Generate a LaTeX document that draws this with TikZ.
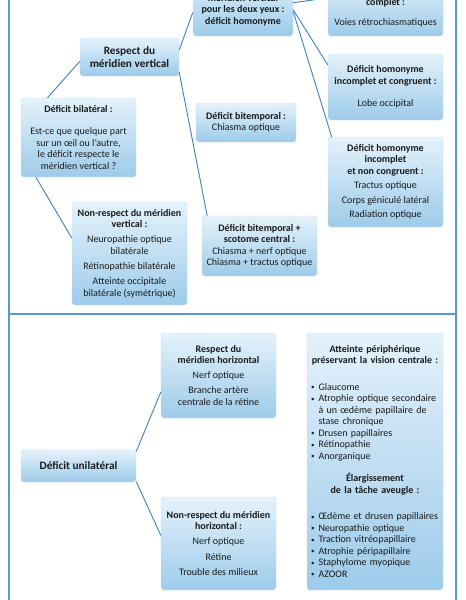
\documentclass[tikz,border=0pt]{standalone}
\usepackage{fontspec}
\setmainfont{Carlito}
\definecolor{boxtop}{HTML}{E4F2FB}
\definecolor{boxbot}{HTML}{9DCBEA}
\definecolor{boxline}{HTML}{BFDDF2}
\definecolor{linkblue}{HTML}{3F7FC0}
\definecolor{frameblue}{HTML}{5B96CF}
\definecolor{txt}{HTML}{1A1A1A}
\tikzset{
  box/.style={draw=boxline, rounded corners=3pt, top color=boxtop, bottom color=boxbot,
    align=center, inner sep=2pt, text=txt, minimum width=115pt,
    font=\fontsize{10}{11.5}\selectfont},
  bigbox/.style={box, font=\fontsize{11.3}{12.5}\selectfont},
  link/.style={draw=linkblue, line width=0.9pt},
  frame/.style={draw=frameblue, line width=2pt},
}
\newcommand{\dotb}{\makebox[0.75em][l]{\raisebox{0.8pt}{\fontsize{7}{7}\selectfont •}}}
\newcommand{\itm}[1]{\par\noindent\dotb#1}
\begin{document}
\begin{tikzpicture}[x=1pt,y=-1pt]
\useasboundingbox (0,0) rectangle (466,600);
\clip (0,0) rectangle (466,600);
% frame
\draw[frame] (9,0) -- (9,600);
\draw[frame] (456,0) -- (456,600);
\draw[frame] (9,314) -- (456,314);
% bilateral deficit
\node[bigbox, minimum width=99pt, minimum height=38pt] (rv) at (129.5,57)
  {\textbf{Respect du}\\\textbf{méridien vertical}};
\node[box, minimum height=79pt] (bilat) at (78.5,137.5)
  {\textbf{Déficit bilatéral :}\\[11pt]Est-ce que quelque part\\sur un œil ou l'autre,\\le déficit respecte le\\méridien vertical ?};
\node[box, minimum width=100pt, minimum height=63pt] (hom) at (243,4.5)
  {\textbf{Respect du}\\\textbf{méridien vertical}\\\textbf{pour les deux yeux :}\\\textbf{déficit homonyme}};
\node[box, minimum height=58pt] (comp) at (385.5,7)
  {\textbf{Déficit homonyme}\\\textbf{complet :}\\[9pt]Voies rétrochiasmatiques};
\node[box, minimum height=66pt] (cong) at (385.5,87)
  {\textbf{Déficit homonyme}\\\textbf{incomplet et congruent :}\\[11pt]Lobe occipital};
\node[box, minimum width=100pt, minimum height=39pt] (bitemp) at (246,122.5)
  {\textbf{Déficit bitemporal :}\\Chiasma optique};
\node[box, minimum height=90pt] (noncong) at (385.5,182)
  {\textbf{Déficit homonyme}\\\textbf{incomplet}\\\textbf{et non congruent :}\\[3pt]Tractus optique\\[3pt]Corps géniculé latéral\\[3pt]Radiation optique};
\node[box, minimum height=60pt] (bts) at (259.5,246)
  {\textbf{Déficit bitemporal +}\\\textbf{scotome central :}\\Chiasma + nerf optique\\Chiasma + tractus optique};
\node[box, minimum height=103pt] (nrv) at (129.5,253.5)
  {\textbf{Non-respect du méridien}\\\textbf{vertical :}\\[3.5pt]Neuropathie optique\\bilatérale\\[4pt]Rétinopathie bilatérale\\[3.5pt]Atteinte occipitale\\bilatérale (symétrique)};
\draw[link] (bilat.128) -- (rv.185);
\draw[link] (bilat.223) -- (nrv.165);
\draw[link] (rv.8) -- (hom.189);
\draw[link] (rv.343) -- (bts.150);
\draw[link] (hom.2) -- (comp.171);
\draw[link] (hom.354) -- (cong.159);
\draw[link] (hom.352) -- (noncong.140);
% unilateral deficit
\node[box, minimum height=85pt] (rh) at (218.5,375.5)
  {\textbf{Respect du}\\\textbf{méridien horizontal}\\[3pt]Nerf optique\\[4pt]Branche artère\\centrale de la rétine};
\node[bigbox, minimum height=32pt] (uni) at (78.5,466) {\textbf{Déficit unilatéral}};
\node[box, minimum height=93pt] (nrh) at (218.5,543.5)
  {\textbf{Non-respect du méridien}\\\textbf{horizontal :}\\[3.5pt]Nerf optique\\[4pt]Rétine\\[4pt]Trouble des milieux};
\node[box, minimum width=136pt, minimum height=257pt, text width=128pt, align=left] (periph) at (375,461.5)
  {{\centering\textbf{Atteinte périphérique}\\\textbf{préservant la vision centrale :}\par}
   \vspace{15pt}
   \itm{Glaucome}
   \itm{Atrophie optique secondaire}
   \par\noindent\hspace*{0.75em}à un œdème papillaire de
   \par\noindent\hspace*{0.75em}stase chronique
   \itm{Drusen papillaires}
   \itm{Rétinopathie}
   \itm{Anorganique}\par
   \vspace{11pt}
   {\centering\textbf{Élargissement}\\\textbf{de la tâche aveugle :}\par}
   \vspace{15pt}
   \itm{Œdème et drusen papillaires}
   \itm{Neuropathie optique}
   \itm{Traction vitréopapillaire}
   \itm{Atrophie péripapillaire}
   \itm{Staphylome myopique}
   \itm{AZOOR}};
\draw[link] (uni.14) -- (rh.196);
\draw[link] (uni.345) -- (nrh.172);
\end{tikzpicture}
\end{document}
